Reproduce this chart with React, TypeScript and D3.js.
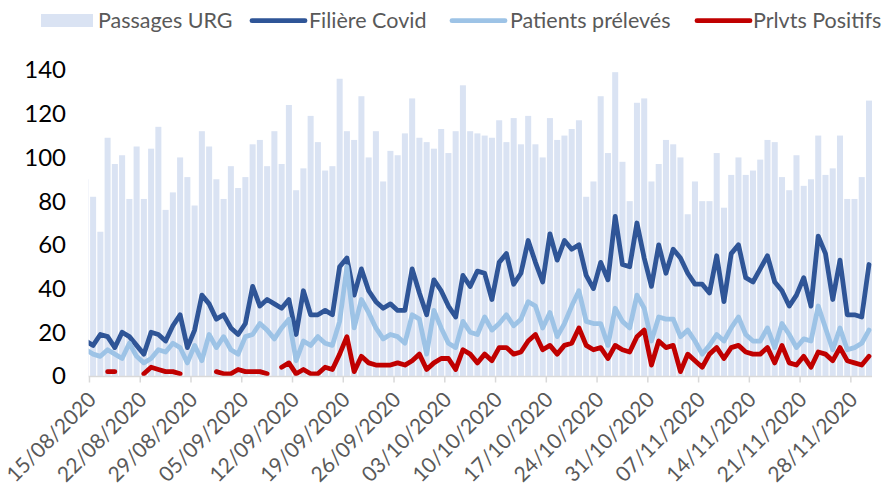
import * as d3 from "d3";

// one value per day, 14/08/2020 -> 30/11/2020 (the first day is cut by the plot edge)
const days = d3.timeDay.range(new Date(2020, 7, 14), new Date(2020, 11, 1));

const passagesURG = [
  90,
  82, 66, 109, 97, 101, 81, 105, 81, 104, 114, 76, 84, 100, 91, 78, 112, 105, 90,
  81, 96, 86, 91, 106, 108, 96, 112, 97, 124, 85, 95, 119, 107, 94, 96, 136, 112,
  108, 128, 100, 112, 89, 103, 101, 111, 127, 109, 107, 104, 113, 102, 112, 133, 112, 111,
  110, 109, 117, 107, 118, 106, 119, 106, 100, 118, 108, 110, 113, 117, 82, 89, 128, 102,
  139, 98, 80, 125, 127, 89, 97, 108, 106, 100, 74, 89, 80, 80, 102, 77, 92, 100, 92,
  94, 99, 108, 107, 91, 85, 101, 87, 90, 110, 92, 95, 110, 81, 81, 91, 126,
];

const filiereCovid = [
  16,
  14, 19, 18, 13, 20, 18, 14, 10, 20, 19, 16, 23, 28, 13, 21, 37, 33, 26,
  28, 22, 19, 24, 41, 32, 35, 33, 31, 35, 19, 39, 28, 28, 30, 28, 50, 54,
  37, 49, 39, 34, 31, 33, 30, 30, 49, 38, 28, 44, 39, 32, 27, 46, 41, 48,
  47, 35, 52, 56, 42, 47, 62, 52, 43, 65, 53, 62, 58, 60, 46, 40, 52, 44,
  73, 51, 50, 70, 54, 41, 60, 47, 58, 54, 47, 42, 42, 38, 55, 34, 56, 60, 45,
  43, 49, 55, 43, 39, 32, 37, 45, 32, 64, 56, 35, 53, 28, 28, 27, 51,
];

const patientsPreleves = [
  12,
  10, 9, 12, 10, 8, 15, 9, 6, 8, 12, 11, 15, 13, 6, 14, 7, 19, 13,
  18, 12, 10, 18, 19, 24, 21, 17, 22, 26, 7, 16, 14, 18, 15, 14, 25, 50,
  22, 35, 29, 22, 17, 19, 18, 15, 28, 26, 10, 30, 22, 15, 13, 25, 20, 19,
  27, 21, 24, 28, 23, 26, 34, 32, 22, 29, 18, 24, 32, 39, 25, 24, 24, 14,
  31, 25, 22, 37, 31, 16, 27, 26, 26, 18, 21, 16, 10, 14, 19, 16, 22, 27, 19,
  16, 16, 22, 13, 24, 19, 13, 17, 16, 32, 22, 12, 22, 12, 13, 15, 21,
];

const prlvtsPositifs = [
  null,
  null, null, 2, 2, null, null, null, 1, 4, 3, 2, 2, 1, null, null, null, null, 2,
  1, 1, 3, 2, 2, 2, 1, null, 4, 6, 1, 3, 1, 1, 4, 3, 10, 18,
  2, 9, 6, 5, 5, 5, 6, 5, 7, 10, 3, 6, 8, 8, 3, 12, 10, 6,
  10, 7, 13, 13, 10, 11, 16, 19, 12, 14, 10, 14, 15, 22, 14, 12, 13, 8,
  14, 12, 11, 18, 21, 5, 16, 13, 14, 2, 10, 7, 4, 10, 13, 8, 13, 14, 11,
  10, 10, 13, 6, 14, 6, 5, 9, 4, 11, 10, 7, 13, 7, 6, 5, 9,
];

const yTicks = [0, 20, 40, 60, 80, 100, 120, 140];
const tickLabels = [
  "15/08/2020", "22/08/2020", "29/08/2020", "05/09/2020", "12/09/2020", "19/09/2020",
  "26/09/2020", "03/10/2020", "10/10/2020", "17/10/2020", "24/10/2020", "31/10/2020",
  "07/11/2020", "14/11/2020", "21/11/2020", "28/11/2020",
];

const lineSeries = [
  { name: "Filière Covid", values: filiereCovid, color: "#2f5597" },
  { name: "Patients prélevés", values: patientsPreleves, color: "#9dc3e6" },
  { name: "Prlvts Positifs", values: prlvtsPositifs, color: "#c00000" },
];

const W = 885;
const H = 488;
const font = "Lato, 'Liberation Sans', sans-serif";
const fmt = d3.timeFormat("%d/%m/%Y");

export default function App() {
  const x = d3
    .scaleBand<string>()
    .domain(days.map((d) => fmt(d)))
    .range([82.84, 872])
    .paddingInner(0.17)
    .paddingOuter(0);
  const y = d3.scaleLinear().domain([0, 140]).range([376, 70]);
  const cx = (i: number) => (x(fmt(days[i])) as number) + x.bandwidth() / 2;

  const line = d3
    .line<number | null>()
    .defined((d) => d != null)
    .x((_, i) => cx(i))
    .y((d) => y(d as number));

  // ticks sit on the boundary before each labelled day
  const tickPos = tickLabels.map((t) => {
    const b = x(t) as number;
    return b - (x.step() - x.bandwidth()) / 2;
  });
  const clipLeft = x.range()[0] + x.step() * 0.8;

  const legendLines = [
    { x0: 252, text: 309 },
    { x0: 452, text: 510 },
    { x0: 697, text: 753 },
  ];

  return (
    <svg
      width={W}
      height={H}
      style={{ position: "fixed", left: 0, top: 0, background: "#fff" }}
      fontFamily={font}
    >
      <defs>
        <clipPath id="plot">
          <rect x={clipLeft} y={0} width={W - clipLeft} height={H} />
        </clipPath>
      </defs>

      {/* legend */}
      <rect x={41} y={14} width={52} height={13} fill="#dae3f3" />
      <text x={98} y={27.5} fontSize={21.5} fill="#595959">
        Passages URG
      </text>
      {lineSeries.map((s, k) => (
        <g key={s.name}>
          <line
            x1={legendLines[k].x0}
            x2={legendLines[k].x0 + 53}
            y1={20.7}
            y2={20.7}
            stroke={s.color}
            strokeWidth={4.8}
            strokeLinecap="round"
          />
          <text x={legendLines[k].text} y={27.5} fontSize={21.5} fill="#595959">
            {s.name}
          </text>
        </g>
      ))}

      {/* y labels */}
      {yTicks.map((t) => (
        <text
          key={t}
          x={66}
          y={y(t)}
          dy="0.35em"
          textAnchor="end"
          fontSize={24}
          fill="#000"
        >
          {t}
        </text>
      ))}

      <g clipPath="url(#plot)">
        {passagesURG.map((v, i) => (
          <rect
            key={i}
            x={x(fmt(days[i]))}
            y={y(v)}
            width={x.bandwidth()}
            height={y(0) - y(v)}
            fill="#dae3f3"
          />
        ))}
        {lineSeries.map((s) => (
          <path
            key={s.name}
            d={line(s.values) || ""}
            fill="none"
            stroke={s.color}
            strokeWidth={4.8}
            strokeLinejoin="round"
            strokeLinecap="round"
          />
        ))}
      </g>

      {/* x axis */}
      <line x1={clipLeft} x2={x.range()[1]} y1={376.5} y2={376.5} stroke="#d9d9d9" strokeWidth={1.5} />
      {tickPos.map((p, k) => (
        <g key={k}>
          <line x1={p} x2={p} y1={376.5} y2={382.5} stroke="#d9d9d9" strokeWidth={1.5} />
          <text
            transform={`translate(${p + 8},401) rotate(-45)`}
            textAnchor="end"
            fontSize={21}
            fill="#595959"
          >
            {tickLabels[k]}
          </text>
        </g>
      ))}
    </svg>
  );
}
